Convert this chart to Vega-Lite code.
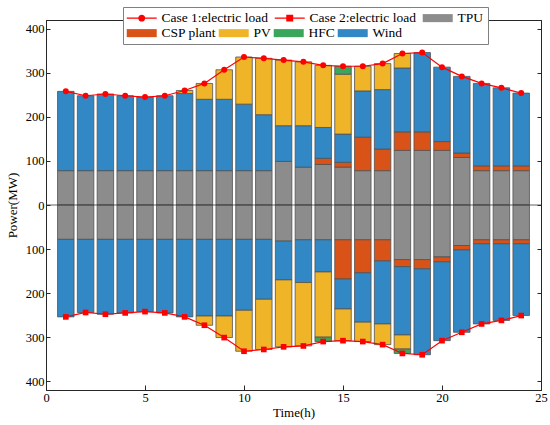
{
  "$schema": "https://vega.github.io/schema/vega-lite/v6.json",
  "width": 495,
  "height": 370,
  "autosize": "none",
  "padding": {"left": 46, "top": 20, "right": 9, "bottom": 35},
  "background": "white",
  "datasets": {
    "bars": [
      {"h": 1, "series": "TPU", "v": 78}, {"h": 1, "series": "Wind", "v": 180},
      {"h": 2, "series": "TPU", "v": 78}, {"h": 2, "series": "Wind", "v": 170},
      {"h": 3, "series": "TPU", "v": 78}, {"h": 3, "series": "Wind", "v": 174},
      {"h": 4, "series": "TPU", "v": 78}, {"h": 4, "series": "Wind", "v": 170},
      {"h": 5, "series": "TPU", "v": 78}, {"h": 5, "series": "Wind", "v": 167},
      {"h": 6, "series": "TPU", "v": 78}, {"h": 6, "series": "Wind", "v": 170},
      {"h": 7, "series": "TPU", "v": 78}, {"h": 7, "series": "Wind", "v": 175}, {"h": 7, "series": "PV", "v": 7},
      {"h": 8, "series": "TPU", "v": 78}, {"h": 8, "series": "Wind", "v": 162}, {"h": 8, "series": "PV", "v": 36},
      {"h": 9, "series": "TPU", "v": 78}, {"h": 9, "series": "Wind", "v": 162}, {"h": 9, "series": "PV", "v": 67},
      {"h": 10, "series": "TPU", "v": 78}, {"h": 10, "series": "Wind", "v": 151}, {"h": 10, "series": "PV", "v": 107},
      {"h": 11, "series": "TPU", "v": 78}, {"h": 11, "series": "Wind", "v": 127}, {"h": 11, "series": "PV", "v": 128},
      {"h": 12, "series": "TPU", "v": 99}, {"h": 12, "series": "Wind", "v": 81}, {"h": 12, "series": "PV", "v": 149},
      {"h": 13, "series": "TPU", "v": 86}, {"h": 13, "series": "Wind", "v": 94}, {"h": 13, "series": "PV", "v": 145},
      {"h": 14, "series": "TPU", "v": 92}, {"h": 14, "series": "CSP plant", "v": 14}, {"h": 14, "series": "Wind", "v": 70}, {"h": 14, "series": "PV", "v": 141},
      {"h": 15, "series": "TPU", "v": 86}, {"h": 15, "series": "CSP plant", "v": 11}, {"h": 15, "series": "Wind", "v": 64}, {"h": 15, "series": "PV", "v": 136}, {"h": 15, "series": "HFC", "v": 18},
      {"h": 16, "series": "TPU", "v": 78}, {"h": 16, "series": "CSP plant", "v": 76}, {"h": 16, "series": "Wind", "v": 105}, {"h": 16, "series": "PV", "v": 56},
      {"h": 17, "series": "TPU", "v": 78}, {"h": 17, "series": "CSP plant", "v": 49}, {"h": 17, "series": "Wind", "v": 135}, {"h": 17, "series": "PV", "v": 59},
      {"h": 18, "series": "TPU", "v": 124}, {"h": 18, "series": "CSP plant", "v": 42}, {"h": 18, "series": "Wind", "v": 145}, {"h": 18, "series": "PV", "v": 33},
      {"h": 19, "series": "TPU", "v": 124}, {"h": 19, "series": "CSP plant", "v": 42}, {"h": 19, "series": "Wind", "v": 180},
      {"h": 20, "series": "TPU", "v": 124}, {"h": 20, "series": "CSP plant", "v": 20}, {"h": 20, "series": "Wind", "v": 169},
      {"h": 21, "series": "TPU", "v": 108}, {"h": 21, "series": "CSP plant", "v": 10}, {"h": 21, "series": "Wind", "v": 174},
      {"h": 22, "series": "TPU", "v": 78}, {"h": 22, "series": "CSP plant", "v": 11}, {"h": 22, "series": "Wind", "v": 187},
      {"h": 23, "series": "TPU", "v": 78}, {"h": 23, "series": "CSP plant", "v": 11}, {"h": 23, "series": "Wind", "v": 177},
      {"h": 24, "series": "TPU", "v": 78}, {"h": 24, "series": "CSP plant", "v": 11}, {"h": 24, "series": "Wind", "v": 165},

      {"h": 1, "series": "TPU", "v": -78}, {"h": 1, "series": "Wind", "v": -176},
      {"h": 2, "series": "TPU", "v": -78}, {"h": 2, "series": "Wind", "v": -166},
      {"h": 3, "series": "TPU", "v": -78}, {"h": 3, "series": "Wind", "v": -170},
      {"h": 4, "series": "TPU", "v": -78}, {"h": 4, "series": "Wind", "v": -167},
      {"h": 5, "series": "TPU", "v": -78}, {"h": 5, "series": "Wind", "v": -164},
      {"h": 6, "series": "TPU", "v": -78}, {"h": 6, "series": "Wind", "v": -167},
      {"h": 7, "series": "TPU", "v": -78}, {"h": 7, "series": "Wind", "v": -176},
      {"h": 8, "series": "TPU", "v": -78}, {"h": 8, "series": "Wind", "v": -174}, {"h": 8, "series": "PV", "v": -21},
      {"h": 9, "series": "TPU", "v": -78}, {"h": 9, "series": "Wind", "v": -174}, {"h": 9, "series": "PV", "v": -49},
      {"h": 10, "series": "TPU", "v": -78}, {"h": 10, "series": "Wind", "v": -161}, {"h": 10, "series": "PV", "v": -93},
      {"h": 11, "series": "TPU", "v": -78}, {"h": 11, "series": "Wind", "v": -136}, {"h": 11, "series": "PV", "v": -114},
      {"h": 12, "series": "TPU", "v": -82}, {"h": 12, "series": "Wind", "v": -88}, {"h": 12, "series": "PV", "v": -152},
      {"h": 13, "series": "TPU", "v": -79}, {"h": 13, "series": "Wind", "v": -97}, {"h": 13, "series": "PV", "v": -144},
      {"h": 14, "series": "TPU", "v": -79}, {"h": 14, "series": "Wind", "v": -73}, {"h": 14, "series": "PV", "v": -148}, {"h": 14, "series": "HFC", "v": -10},
      {"h": 15, "series": "TPU", "v": -79}, {"h": 15, "series": "CSP plant", "v": -89}, {"h": 15, "series": "Wind", "v": -68}, {"h": 15, "series": "PV", "v": -72},
      {"h": 16, "series": "TPU", "v": -79}, {"h": 16, "series": "CSP plant", "v": -75}, {"h": 16, "series": "Wind", "v": -112}, {"h": 16, "series": "PV", "v": -44},
      {"h": 17, "series": "TPU", "v": -79}, {"h": 17, "series": "CSP plant", "v": -48}, {"h": 17, "series": "Wind", "v": -143}, {"h": 17, "series": "PV", "v": -47},
      {"h": 18, "series": "TPU", "v": -124}, {"h": 18, "series": "CSP plant", "v": -16}, {"h": 18, "series": "Wind", "v": -155}, {"h": 18, "series": "PV", "v": -32}, {"h": 18, "series": "HFC", "v": -10},
      {"h": 19, "series": "TPU", "v": -124}, {"h": 19, "series": "CSP plant", "v": -21}, {"h": 19, "series": "Wind", "v": -195},
      {"h": 20, "series": "TPU", "v": -118}, {"h": 20, "series": "CSP plant", "v": -11}, {"h": 20, "series": "Wind", "v": -179},
      {"h": 21, "series": "TPU", "v": -92}, {"h": 21, "series": "CSP plant", "v": -10}, {"h": 21, "series": "Wind", "v": -187},
      {"h": 22, "series": "TPU", "v": -79}, {"h": 22, "series": "CSP plant", "v": -9}, {"h": 22, "series": "Wind", "v": -182},
      {"h": 23, "series": "TPU", "v": -79}, {"h": 23, "series": "CSP plant", "v": -9}, {"h": 23, "series": "Wind", "v": -174},
      {"h": 24, "series": "TPU", "v": -79}, {"h": 24, "series": "CSP plant", "v": -9}, {"h": 24, "series": "Wind", "v": -163}
    ],
    "loads": [
      {"h": 1, "series": "Case 1:electric load", "v": 258},
      {"h": 2, "series": "Case 1:electric load", "v": 248},
      {"h": 3, "series": "Case 1:electric load", "v": 252},
      {"h": 4, "series": "Case 1:electric load", "v": 248},
      {"h": 5, "series": "Case 1:electric load", "v": 245},
      {"h": 6, "series": "Case 1:electric load", "v": 248},
      {"h": 7, "series": "Case 1:electric load", "v": 260},
      {"h": 8, "series": "Case 1:electric load", "v": 276},
      {"h": 9, "series": "Case 1:electric load", "v": 307},
      {"h": 10, "series": "Case 1:electric load", "v": 336},
      {"h": 11, "series": "Case 1:electric load", "v": 333},
      {"h": 12, "series": "Case 1:electric load", "v": 329},
      {"h": 13, "series": "Case 1:electric load", "v": 325},
      {"h": 14, "series": "Case 1:electric load", "v": 317},
      {"h": 15, "series": "Case 1:electric load", "v": 315},
      {"h": 16, "series": "Case 1:electric load", "v": 315},
      {"h": 17, "series": "Case 1:electric load", "v": 321},
      {"h": 18, "series": "Case 1:electric load", "v": 344},
      {"h": 19, "series": "Case 1:electric load", "v": 346},
      {"h": 20, "series": "Case 1:electric load", "v": 313},
      {"h": 21, "series": "Case 1:electric load", "v": 292},
      {"h": 22, "series": "Case 1:electric load", "v": 276},
      {"h": 23, "series": "Case 1:electric load", "v": 266},
      {"h": 24, "series": "Case 1:electric load", "v": 254},
      {"h": 1, "series": "Case 2:electric load", "v": -254},
      {"h": 2, "series": "Case 2:electric load", "v": -244},
      {"h": 3, "series": "Case 2:electric load", "v": -248},
      {"h": 4, "series": "Case 2:electric load", "v": -245},
      {"h": 5, "series": "Case 2:electric load", "v": -242},
      {"h": 6, "series": "Case 2:electric load", "v": -245},
      {"h": 7, "series": "Case 2:electric load", "v": -254},
      {"h": 8, "series": "Case 2:electric load", "v": -273},
      {"h": 9, "series": "Case 2:electric load", "v": -301},
      {"h": 10, "series": "Case 2:electric load", "v": -332},
      {"h": 11, "series": "Case 2:electric load", "v": -328},
      {"h": 12, "series": "Case 2:electric load", "v": -322},
      {"h": 13, "series": "Case 2:electric load", "v": -320},
      {"h": 14, "series": "Case 2:electric load", "v": -310},
      {"h": 15, "series": "Case 2:electric load", "v": -308},
      {"h": 16, "series": "Case 2:electric load", "v": -310},
      {"h": 17, "series": "Case 2:electric load", "v": -317},
      {"h": 18, "series": "Case 2:electric load", "v": -337},
      {"h": 19, "series": "Case 2:electric load", "v": -340},
      {"h": 20, "series": "Case 2:electric load", "v": -308},
      {"h": 21, "series": "Case 2:electric load", "v": -289},
      {"h": 22, "series": "Case 2:electric load", "v": -270},
      {"h": 23, "series": "Case 2:electric load", "v": -262},
      {"h": 24, "series": "Case 2:electric load", "v": -251}
    ]
  },
  "layer": [
    {
      "layer": [
        {
          "data": {"name": "bars"},
          "transform": [
            {"calculate": "indexof(['TPU', 'CSP plant', 'Wind', 'PV', 'HFC'], datum.series)", "as": "ord"}
          ],
          "mark": {"type": "bar", "size": 16.5, "stroke": "#505050", "strokeWidth": 0.8},
          "encoding": {
            "x": {
              "field": "h", "type": "quantitative",
              "scale": {"domain": [0, 25], "nice": false, "zero": false, "padding": 0},
              "axis": {
                "values": [0, 5, 10, 15, 20, 25], "tickSize": -5, "labelPadding": 6,
                "labelFlush": false, "title": "Time(h)", "titlePadding": 3
              }
            },
            "y": {
              "field": "v", "type": "quantitative", "stack": "zero",
              "scale": {"domain": [-420, 420], "nice": false, "padding": 0},
              "axis": {
                "values": [-400, -300, -200, -100, 0, 100, 200, 300, 400],
                "labelExpr": "abs(datum.value)", "tickSize": -4, "labelPadding": 6,
                "labelFlush": false, "title": "Power(MW)", "titlePadding": 6
              }
            },
            "fill": {
              "field": "series", "type": "nominal",
              "scale": {
                "domain": ["TPU", "CSP plant", "PV", "HFC", "Wind"],
                "range": ["#8c8c8c", "#d95319", "#f0b429", "#3aa65b", "#3288c4"]
              },
              "legend": {
                "title": null,
                "values": ["CSP plant", "PV", "HFC", "Wind"],
                "orient": "none",
                "legendX": 81,
                "legendY": 6,
                "direction": "horizontal",
                "columnPadding": 2,
                "padding": 0,
                "symbolType": "M-1.17,-0.67H3.83V0.67H-1.17Z",
                "symbolSize": 144,
                "symbolStrokeWidth": 0,
                "symbolOpacity": 1,
                "labelOffset": 21,
                "zindex": 3
              }
            },
            "order": {"field": "ord", "type": "quantitative"}
          }
        },
        {
          "data": {"values": [{}]},
          "mark": {"type": "rule", "color": "#3a3a3a", "strokeWidth": 0.8},
          "encoding": {"y": {"datum": 0}}
        },
        {
          "data": {"name": "loads"},
          "mark": {"type": "line", "color": "#ff0000", "strokeWidth": 1.2},
          "encoding": {
            "x": {"field": "h", "type": "quantitative"},
            "y": {"field": "v", "type": "quantitative"},
            "detail": {"field": "series", "type": "nominal"}
          }
        },
        {
          "data": {"name": "loads"},
          "transform": [{"filter": "datum.series == 'Case 1:electric load'"}],
          "mark": {"type": "point", "shape": "circle", "filled": true, "color": "#ff0000", "opacity": 1, "size": 36},
          "encoding": {
            "x": {"field": "h", "type": "quantitative"},
            "y": {"field": "v", "type": "quantitative"}
          }
        },
        {
          "data": {"name": "loads"},
          "transform": [{"filter": "datum.series == 'Case 2:electric load'"}],
          "mark": {"type": "point", "shape": "square", "filled": true, "color": "#ff0000", "opacity": 1, "size": 32},
          "encoding": {
            "x": {"field": "h", "type": "quantitative"},
            "y": {"field": "v", "type": "quantitative"}
          }
        },
        {
          "data": {"name": "loads"},
          "mark": {"type": "point", "filled": true, "opacity": 0, "size": 144},
          "encoding": {
            "x": {"field": "h", "type": "quantitative"},
            "y": {"field": "v", "type": "quantitative"},
            "color": {
              "field": "series", "type": "nominal",
              "scale": {
                "domain": ["Case 1:electric load", "Case 2:electric load", "TPU"],
                "range": ["#ff0000", "#ff0000", "#8c8c8c"]
              },
              "legend": {
                "title": " ",
                "titleOrient": "bottom",
                "titleFontSize": 14,
                "titlePadding": 1,
                "orient": "none",
                "legendX": 77,
                "legendY": -13,
                "direction": "horizontal",
                "columnPadding": 6,
                "padding": 4,
                "symbolSize": 144,
                "symbolStrokeWidth": 0,
                "symbolOpacity": 1,
                "labelOffset": 21,
                "strokeColor": "#808080",
                "fillColor": "#ffffff",
                "zindex": 2
              }
            },
            "shape": {
              "field": "series", "type": "nominal",
              "scale": {
                "domain": ["Case 1:electric load", "Case 2:electric load", "TPU"],
                "range": [
                  "M-1.17,-0.1H3.83V0.1H-1.17Z M1.91,0A0.58,0.58,0,1,1,0.75,0A0.58,0.58,0,1,1,1.91,0Z",
                  "M-1.17,-0.1H3.83V0.1H-1.17Z M0.75,-0.58H1.91V0.58H0.75Z",
                  "M-1.17,-0.67H3.83V0.67H-1.17Z"
                ]
              },
              "legend": {
                "title": " ",
                "titleOrient": "bottom",
                "titleFontSize": 14,
                "titlePadding": 1,
                "orient": "none",
                "legendX": 77,
                "legendY": -13,
                "direction": "horizontal",
                "columnPadding": 6,
                "padding": 4,
                "symbolSize": 144,
                "symbolStrokeWidth": 0,
                "symbolOpacity": 1,
                "labelOffset": 21,
                "strokeColor": "#808080",
                "fillColor": "#ffffff",
                "zindex": 2
              }
            }
          }
        }
      ]
    },
    {
      "data": {"values": [{}]},
      "mark": {"type": "point", "opacity": 0},
      "encoding": {
        "x": {
          "datum": 0, "type": "quantitative",
          "scale": {"domain": [0, 25], "nice": false, "zero": false, "padding": 0},
          "axis": {"orient": "top", "values": [0, 5, 10, 15, 20, 25], "tickSize": -5, "labels": false, "title": null}
        },
        "y": {
          "datum": 0, "type": "quantitative",
          "scale": {"domain": [-420, 420], "nice": false, "padding": 0},
          "axis": {"orient": "right", "values": [-400, -300, -200, -100, 0, 100, 200, 300, 400], "tickSize": -4, "labels": false, "title": null}
        }
      }
    }
  ],
  "resolve": {"scale": {"x": "independent", "y": "independent"}},
  "config": {
    "view": {"stroke": "#262626"},
    "axis": {
      "grid": false,
      "labelFont": "Liberation Serif",
      "titleFont": "Liberation Serif",
      "labelFontSize": 12.5,
      "titleFontSize": 13,
      "titleFontWeight": "normal",
      "labelColor": "#000000",
      "titleColor": "#000000",
      "domainColor": "#262626",
      "tickColor": "#262626"
    },
    "legend": {
      "labelFont": "Liberation Serif",
      "titleFont": "Liberation Serif",
      "labelFontSize": 13.5,
      "labelColor": "#000000",
      "labelLimit": 300
    }
  }
}
